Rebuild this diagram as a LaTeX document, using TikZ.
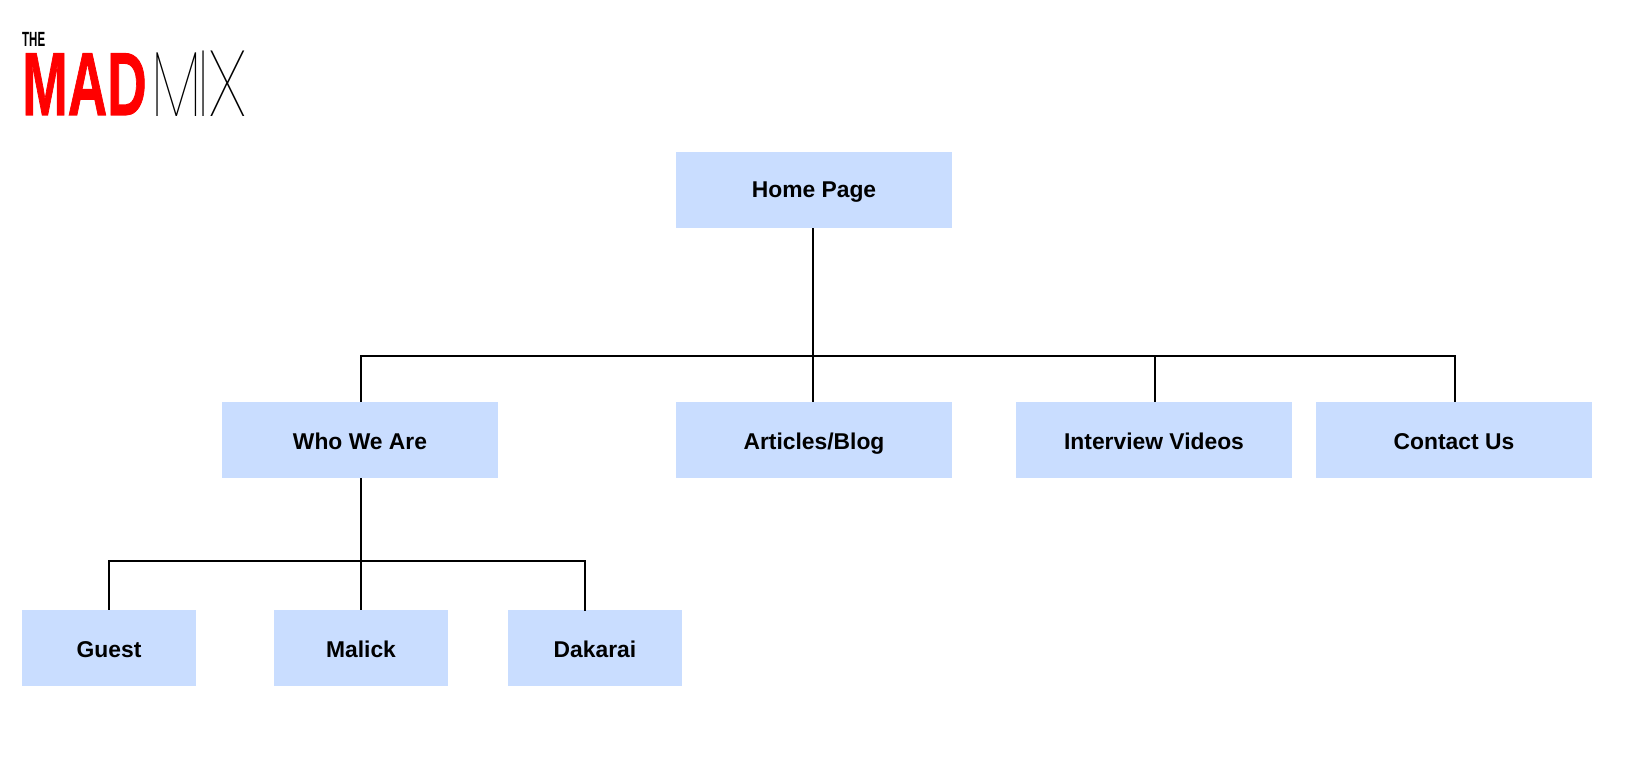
\documentclass[tikz,border=0pt]{standalone}
\usepackage{fontspec}
\setmainfont{Liberation Sans}
\newfontfamily\thinfont{Poppins Thin}
\newfontfamily\madfont[FakeBold=1.2]{Liberation Sans Bold}
\usetikzlibrary{calc}
\definecolor{boxblue}{HTML}{C9DDFF}
\definecolor{madred}{HTML}{FF0000}

\begin{document}
\begin{tikzpicture}
[
    x=0.02cm, y=-0.02cm,
    big/.style={fill=boxblue, minimum width=5.52cm, minimum height=1.52cm, inner sep=0pt, text height=0.32cm, text depth=0pt, font=\fontsize{13}{16}\selectfont\bfseries},    % big = upper levels
    row/.style={big, text height=0.36cm},       % row = second level
    small/.style={row, minimum width=3.48cm},   % small = lowest level
    link/.style={draw, line width=0.04cm},
    logo/.style={inner sep=0pt, anchor=base west},
]
\useasboundingbox (0,0) rectangle (1626,770);

\node [logo, xscale=0.56] (the) at (22,47) {\fontsize{11.7}{12}\selectfont\bfseries THE};
\node [logo, xscale=0.61, text=madred] (mad) at (22,115) {\madfont\fontsize{51}{51}\selectfont MAD};
\node [logo, xscale=0.68] (mix) at (151,117) {\thinfont\fontsize{53}{53}\selectfont M\kern-3.2pt I\kern-1pt\scalebox{1.22}[1]{X}};

\node [big] (home) at (814,190) {Home Page};
\node [row] (who) at (360,440) {Who We Are};
\node [row] (articles) at (814,440) {Articles/Blog};
\node [row] (interview) at (1154,440) {Interview Videos};
\node [row] (contact) at (1454,440) {Contact Us};
\node [small] (guest) at (109,648) {Guest};
\node [small] (malick) at (361,648) {Malick};
\node [small] (dakarai) at (595,648) {Dakarai};

\coordinate (bus) at (813,356);
\coordinate (subbus) at (361,561);
\coordinate (dakaraitop) at (585,611);

\draw [link] (home.south -| bus) -- (articles.north -| bus);
\draw [link] ([xshift=0.02cm]who.north) |- (bus) -| ([xshift=0.02cm]contact.north);
\draw [link] ([xshift=0.02cm]interview.north) -- ([xshift=0.02cm]interview.north |- bus);
\draw [link] ([xshift=0.02cm]who.south) -- (malick.north);
\draw [link] (guest.north) |- (subbus) -| (dakaraitop);
\end{tikzpicture}
\end{document}
